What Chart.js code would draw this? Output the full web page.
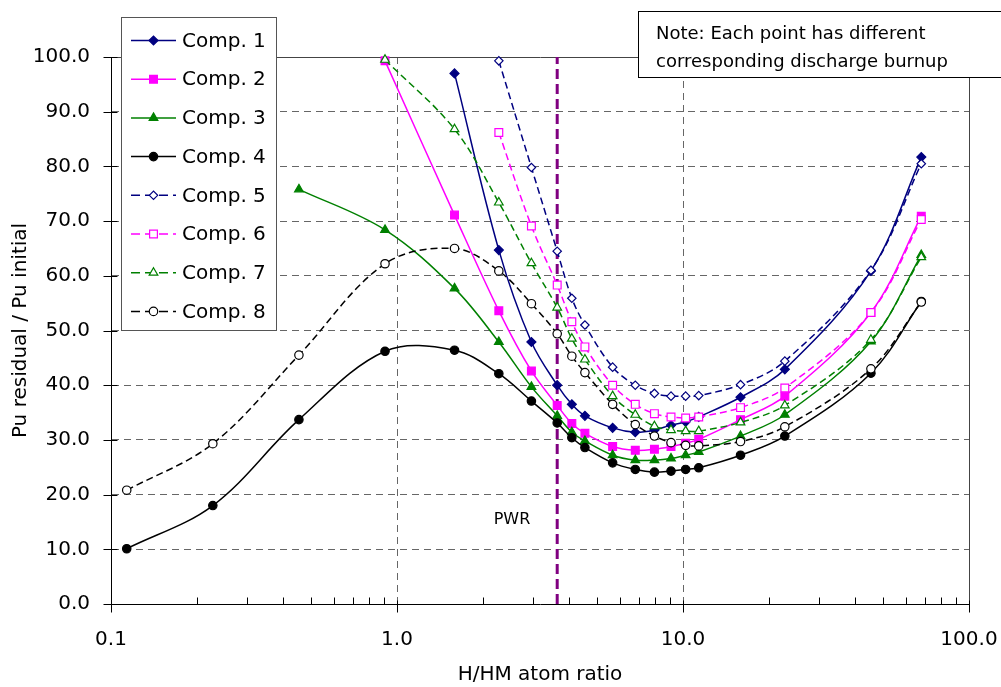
<!DOCTYPE html>
<html>
<head>
<meta charset="utf-8">
<title>Pu residual vs H/HM</title>
<script src="https://cdn.jsdelivr.net/npm/chart.js@4.4.1/dist/chart.umd.min.js"></script>
<style>
  html, body { margin: 0; padding: 0; background: #fff; }
  canvas { display: block; }
</style>
</head>
<body>
<canvas id="puChart" width="1001" height="687"></canvas>
<script>
// H/HM atom ratio of each calculated point
const hmRatio = [0.1135, 0.227, 0.454, 0.908, 1.589, 2.27, 2.951, 3.632, 4.086, 4.54,
                 5.675, 6.81, 7.945, 9.08, 10.215, 11.35, 15.89, 22.7, 45.4, 68.1];

// Pu residual / Pu initial (%) - null where the composition has no point
const comp1 = [null, null, null, null, 97.0, 64.7, 47.9, 40.0, 36.5, 34.4, 32.2, 31.4, 31.8, 32.7, 33.3, 34.2, 37.8, 42.9, 60.9, 81.7];
const comp2 = [null, null, null, 99.3, 71.1, 53.6, 42.6, 36.3, 33.0, 31.2, 28.8, 28.1, 28.3, 28.8, 29.4, 30.1, 33.7, 38.0, 53.3, 70.9];
const comp3 = [null, null, 75.8, 68.4, 57.7, 47.9, 39.7, 34.4, 31.4, 29.8, 27.2, 26.3, 26.3, 26.6, 27.2, 27.8, 30.7, 34.6, 48.0, 63.8];
const comp4 = [10.1, 18.0, 33.7, 46.2, 46.4, 42.1, 37.1, 33.1, 30.4, 28.6, 25.8, 24.6, 24.1, 24.3, 24.6, 24.9, 27.2, 30.7, 42.2, 55.3];
const comp5 = [null, null, null, null, null, 99.3, 79.8, 64.5, 55.9, 51.0, 43.3, 40.0, 38.5, 38.0, 38.0, 38.1, 40.1, 44.4, 61.0, 80.5];
const comp6 = [null, null, null, null, null, 86.2, 69.1, 58.3, 51.6, 47.0, 40.0, 36.5, 34.8, 34.2, 34.0, 34.2, 35.9, 39.5, 53.3, 70.3];
const comp7 = [null, null, null, 99.5, 86.8, 73.4, 62.3, 54.2, 48.5, 44.7, 38.0, 34.6, 32.5, 31.8, 31.6, 31.6, 33.2, 36.3, 48.3, 63.4];
const comp8 = [20.8, 29.3, 45.5, 62.2, 65.0, 60.9, 54.9, 49.4, 45.3, 42.3, 36.5, 32.8, 30.7, 29.5, 29.0, 28.9, 29.7, 32.4, 43.0, 55.2];

const seriesNames = ['Comp. 1', 'Comp. 2', 'Comp. 3', 'Comp. 4', 'Comp. 5', 'Comp. 6', 'Comp. 7', 'Comp. 8'];

// PWR reference line
const pwrRatio = 3.632;
const pwrSpan = [0, 100];

// axis ticks
const xMajorTicks = [0.1, 1, 10, 100];
const xMinorTicks = [0.2, 0.3, 0.4, 0.5, 0.6, 0.7, 0.8, 0.9, 2, 3, 4, 5, 6, 7, 8, 9, 20, 30, 40, 50, 60, 70, 80, 90];
const yTicks = [0, 10, 20, 30, 40, 50, 60, 70, 80, 90, 100];

const FONT = '"DejaVu Sans", Verdana, sans-serif';

// style for each composition (solid = filled markers, dashed = open markers)
const NAVY = '#000080', MAG = '#ff00ff', GRN = '#008000', BLK = '#000000';
const styles = [
  { color: NAVY, marker: 'rectRot',  r: 4.5, open: false },
  { color: MAG,  marker: 'rect',     r: 5.5, open: false },
  { color: GRN,  marker: 'triangle', r: 5,   open: false },
  { color: BLK,  marker: 'circle',   r: 4.2, open: false },
  { color: NAVY, marker: 'rectRot',  r: 4.2, open: true },
  { color: MAG,  marker: 'rect',     r: 5.5, open: true },
  { color: GRN,  marker: 'triangle', r: 5,   open: true },
  { color: BLK,  marker: 'circle',   r: 4.2, open: true }
];
const DASH = [7, 4];

function toPoints(vals) {
  return hmRatio.map((x, i) => ({ x: x, y: vals[i] })).filter(p => p.y !== null);
}

const allSeries = [comp1, comp2, comp3, comp4, comp5, comp6, comp7, comp8];

const datasets = allSeries.map((vals, i) => {
  const s = styles[i];
  return {
    label: seriesNames[i],
    data: toPoints(vals),
    borderColor: s.color,
    borderWidth: 1.5,
    borderDash: s.open ? DASH : [],
    tension: 0.35,
    pointStyle: s.marker,
    pointRadius: s.r,
    pointHoverRadius: s.r,
    pointBorderWidth: 1.2,
    pointBorderColor: s.color,
    pointBackgroundColor: s.open ? '#ffffff' : s.color,
    order: 8 - i,   // later compositions drawn on top
    clip: false
  };
});

datasets.push({
  label: 'PWR',
  data: pwrSpan.map(v => ({ x: pwrRatio, y: v })),
  borderColor: '#800080',
  borderWidth: 3,
  borderDash: [10, 5],
  pointRadius: 0,
  tension: 0,
  order: 20
});

// white page, tick marks, legend, labels
const decorPlugin = {
  id: 'decor',
  beforeDraw(chart) {
    const ctx = chart.ctx;
    ctx.save();
    ctx.fillStyle = '#fff';
    ctx.fillRect(0, 0, chart.width, chart.height);
    ctx.restore();
  },
  afterDraw(chart) {
    const ctx = chart.ctx;
    const xs = chart.scales.x, ys = chart.scales.y;
    const bottom = Math.round(ys.getPixelForValue(0)) + 0.5;
    const left = Math.round(xs.getPixelForValue(0.1)) + 0.5;

    ctx.save();
    ctx.strokeStyle = '#000';
    ctx.lineWidth = 1;
    ctx.beginPath();
    xMajorTicks.forEach(v => {
      const px = Math.round(xs.getPixelForValue(v)) + 0.5;
      ctx.moveTo(px, bottom - 4); ctx.lineTo(px, bottom + 8);
    });
    xMinorTicks.forEach(v => {
      const px = Math.round(xs.getPixelForValue(v)) + 0.5;
      ctx.moveTo(px, bottom - 7); ctx.lineTo(px, bottom);
    });
    yTicks.forEach(v => {
      const py = Math.round(ys.getPixelForValue(v)) + 0.5;
      ctx.moveTo(left - 8, py); ctx.lineTo(left + 6, py);
    });
    ctx.stroke();

    // PWR label
    ctx.fillStyle = '#000';
    ctx.font = '16px ' + FONT;
    ctx.textAlign = 'center';
    ctx.textBaseline = 'middle';
    ctx.fillText('PWR', 512, 520);

    // legend box
    const lx = 121.5, ly = 17.5, lw = 155, lh = 313;
    ctx.fillStyle = '#fff';
    ctx.fillRect(lx, ly, lw, lh);
    ctx.strokeStyle = '#555';
    ctx.strokeRect(lx, ly, lw, lh);
    ctx.font = '20px ' + FONT;
    ctx.textAlign = 'left';
    datasets.slice(0, 8).forEach((ds, i) => {
      const s = styles[i];
      const ry = 40.5 + i * 38.7;
      ctx.save();
      ctx.strokeStyle = s.color;
      ctx.lineWidth = 1.5;
      ctx.setLineDash(s.open ? [9, 5] : []);
      ctx.beginPath();
      ctx.moveTo(131, ry); ctx.lineTo(176, ry);
      ctx.stroke();
      ctx.setLineDash([]);
      ctx.fillStyle = s.open ? '#fff' : s.color;
      ctx.strokeStyle = s.color;
      ctx.lineWidth = 1.2;
      Chart.helpers.drawPoint(ctx, { pointStyle: s.marker, radius: s.r, rotation: 0, borderWidth: 1.2 }, 153.5, ry);
      ctx.restore();
      ctx.fillStyle = '#000';
      ctx.fillText(ds.label, 182, ry + 1);
    });

    // note box
    ctx.fillStyle = '#fff';
    ctx.fillRect(638.5, 11.5, 370, 66);
    ctx.strokeStyle = '#000';
    ctx.strokeRect(638.5, 11.5, 370, 66);
    ctx.fillStyle = '#000';
    ctx.font = '18px ' + FONT;
    ctx.textBaseline = 'alphabetic';
    ctx.fillText('Note: Each point has different', 656, 39);
    ctx.fillText('corresponding discharge burnup', 656, 67);
    ctx.restore();
  }
};

const gridDash = (c) => {
  if (!c.tick) return [];
  const v = c.tick.value;
  return (v === 100) ? [] : [7, 5];
};

new Chart(document.getElementById('puChart'), {
  type: 'line',
  data: { datasets: datasets },
  plugins: [decorPlugin],
  options: {
    responsive: false,
    animation: false,
    devicePixelRatio: 1,
    parsing: true,
    layout: { padding: { top: 57, right: 32, left: 0, bottom: 0 } },
    plugins: {
      legend: { display: false },
      tooltip: { enabled: false }
    },
    scales: {
      x: {
        type: 'logarithmic',
        min: 0.1,
        max: 100,
        afterFit: (s) => { s.height = 83; s.paddingLeft = 0; s.paddingRight = 0; },
        afterBuildTicks: (s) => { s.ticks = xMajorTicks.map(v => ({ value: v, major: true })); },
        ticks: {
          color: '#000',
          font: { family: FONT, size: 20 },
          padding: 24,
          maxRotation: 0,
          autoSkip: false,
          callback: (v) => Number(v).toFixed(1)
        },
        grid: {
          drawTicks: false,
          color: (c) => {
            const v = c.tick ? c.tick.value : null;
            if (v === 0.1) return 'rgba(0,0,0,0)';
            if (v === 100) return '#444';
            return '#666';
          },
          lineWidth: 1
        },
        border: { display: true, color: '#000', width: 1, dash: gridDash },
        title: {
          display: true,
          text: 'H/HM atom ratio',
          color: '#000',
          font: { family: FONT, size: 20 },
          padding: { top: 0, bottom: 0 }
        }
      },
      y: {
        min: 0,
        max: 100,
        afterFit: (s) => { s.width = 111; s.paddingTop = 0; s.paddingBottom = 0; },
        ticks: {
          stepSize: 10,
          color: '#000',
          font: { family: FONT, size: 20 },
          padding: 21,
          callback: (v) => Number(v).toFixed(1)
        },
        grid: {
          drawTicks: false,
          color: (c) => {
            const v = c.tick ? c.tick.value : null;
            if (v === 0) return 'rgba(0,0,0,0)';
            if (v === 100) return '#444';
            return '#666';
          },
          lineWidth: 1
        },
        border: { display: true, color: '#000', width: 1, dash: gridDash },
        title: {
          display: true,
          text: 'Pu residual / Pu initial',
          color: '#000',
          font: { family: FONT, size: 20 },
          padding: { top: 9, bottom: 0 }
        }
      }
    }
  }
});
</script>
</body>
</html>
